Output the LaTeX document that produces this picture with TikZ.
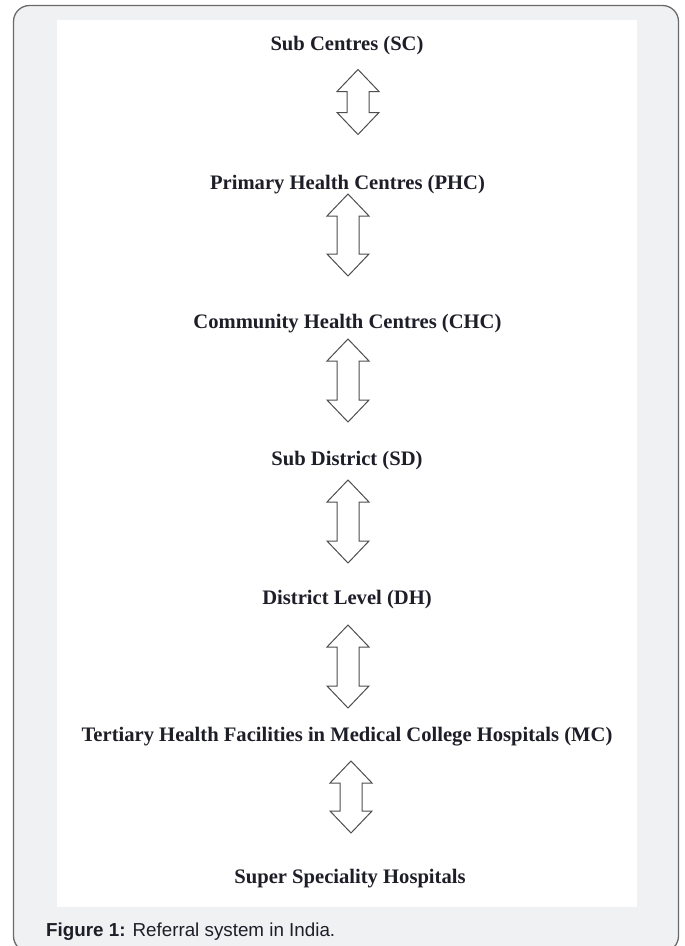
\documentclass[tikz,border=0pt]{standalone}
\usepackage{fontspec}
\setmainfont{Liberation Serif}
\newfontfamily\capfont{Liberation Sans}
\definecolor{framefill}{HTML}{F0F1F3}
\definecolor{framedraw}{HTML}{6A6A6A}
\definecolor{labeltext}{HTML}{1E1E28}
\definecolor{arrowdraw}{HTML}{4E4E4E}
\tikzset{
  level/.style={anchor=base, inner sep=0pt, font=\fontsize{20.6}{24}\selectfont\bfseries, text=labeltext},
  arrowline/.style={draw=arrowdraw, line width=1pt, fill=white, line join=miter},
  pics/dblarrow/.style={code={
    \draw[arrowline] (0,#1/2+22) -- (21,#1/2) -- (11,#1/2) -- (11,-#1/2) -- (21,-#1/2)
      -- (0,-#1/2-22) -- (-21,-#1/2) -- (-11,-#1/2) -- (-11,#1/2) -- (-21,#1/2) -- cycle;
  }}
}
\begin{document}
\begin{tikzpicture}[x=1pt,y=-1pt]
\useasboundingbox (0,0) rectangle (685,946);
% outer panel and inner white area
\draw[draw=framedraw, fill=framefill, line width=1.3pt, rounded corners=16pt] (13.5,5.5) rectangle (678.5,952);
\fill[white] (57,20) rectangle (637,907);
% levels
\node[level] (sc)  at (347,50)  {Sub Centres (SC)};
\node[level] (phc) at (347.5,189) {Primary Health Centres (PHC)};
\node[level] (chc) at (347.5,328) {Community Health Centres (CHC)};
\node[level] (sd)  at (347,465) {Sub District (SD)};
\node[level] (dh)  at (347,604) {District Level (DH)};
\node[level] (mc)  at (347,741) {Tertiary Health Facilities in Medical College Hospitals (MC)};
\node[level] (ssh) at (350,883) {Super Speciality Hospitals};
% double block arrows between levels
\coordinate (a1) at (358,102);
\coordinate (a2) at (348,235);
\coordinate (a3) at (348,380.5);
\coordinate (a4) at (348,521.5);
\coordinate (a5) at (348,666.5);
\coordinate (a6) at (351,797);
\pic at (a1) {dblarrow=21};
\pic at (a2) {dblarrow=38};
\pic at (a3) {dblarrow=39};
\pic at (a4) {dblarrow=39};
\pic at (a5) {dblarrow=39};
\pic at (a6) {dblarrow=28};
% caption
\node[anchor=base west, inner sep=0pt, font=\capfont\fontsize{18.8}{22}\selectfont, text=labeltext] (cap) at (46,936) {\textbf{Figure 1:} Referral system in India.};
\end{tikzpicture}
\end{document}
